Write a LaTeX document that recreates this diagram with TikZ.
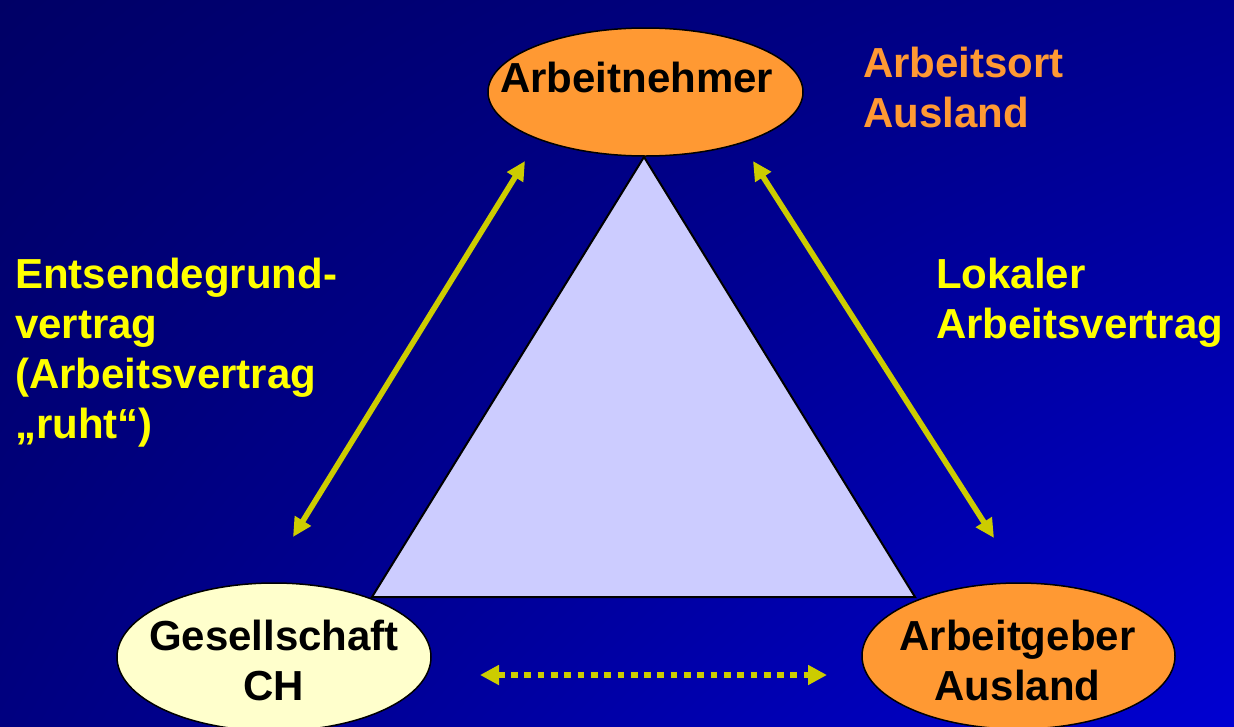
\documentclass[tikz,border=0pt]{standalone}
\usepackage{fontspec}
\setmainfont{Liberation Sans}
\usetikzlibrary{arrows.meta,shapes.geometric,shadings}

\definecolor{bgtl}{HTML}{000066}
\definecolor{bgtr}{HTML}{00008E}
\definecolor{bgbl}{HTML}{000080}
\definecolor{bgbr}{HTML}{0000D2}
\definecolor{partyorange}{HTML}{FF9933}
\definecolor{partycream}{HTML}{FFFFCC}
\definecolor{trianglefill}{HTML}{CCCCFF}
\definecolor{linkyellow}{HTML}{CCCC00}
\definecolor{labelyellow}{HTML}{FFFF00}

\begin{document}
\begin{tikzpicture}[x=1pt,y=-1pt,
  party/.style={ellipse, draw=black, line width=1.5pt, inner sep=0pt},
  bigtext/.style={font=\bfseries\fontsize{42}{50}\selectfont, inner sep=0pt},
  relation/.style={draw=linkyellow, line width=5.6pt,
    {Triangle[length=19pt,width=18pt]}-{Triangle[length=19pt,width=18pt]}},
  dottedrelation/.style={draw=linkyellow, line width=6.7pt,
    dash pattern=on 6.7pt off 6.6pt,
    {Triangle[length=19pt,width=19pt]}-{Triangle[length=19pt,width=19pt]}}]

  % page and background
  \useasboundingbox (0,0) rectangle (1234,726);
  \shade[upper left=bgtl, upper right=bgtr, lower left=bgbl, lower right=bgbr]
    (0,0) rectangle (1234,726);

  % central triangle
  \coordinate (apex) at (644,157);
  \coordinate (baseL) at (372,597);
  \coordinate (baseR) at (915,597);
  \draw[fill=trianglefill, draw=black, line width=2pt, line join=miter]
    (apex) -- (baseR) -- (baseL) -- cycle;

  % the three parties
  \node[party, fill=partyorange, minimum width=315pt, minimum height=128pt]
    (an) at (645.5,92) {};
  \node[party, fill=partycream, minimum width=314pt, minimum height=148pt]
    (gs) at (274,657) {};
  \node[party, fill=partyorange, minimum width=313pt, minimum height=146pt]
    (ag) at (1018.5,656) {};

  % (for multi-line texts the base anchor sits on the last line)
  \node[bigtext, anchor=base west, text=black] (antext) at (500,92) {Arbeitnehmer};
  \node[bigtext, anchor=base, align=center, text=black] (gstext) at (274,700)
    {Gesellschaft\\CH};
  \node[bigtext, anchor=base, align=center, text=black] (agtext) at (1017.5,700)
    {Arbeitgeber\\Ausland};

  % relations between the parties
  \coordinate (l1) at (525,161);
  \coordinate (l2) at (293,537);
  \coordinate (r1) at (753,161);
  \coordinate (r2) at (994,538);
  \coordinate (d1) at (480,675);
  \coordinate (d2) at (827,675);
  \draw[relation] (l1) -- (l2);
  \draw[relation] (r1) -- (r2);
  \draw[dottedrelation] (d1) -- (d2);

  % side labels
  \node[bigtext, anchor=base west, align=left, text=partyorange] (place) at (863,127)
    {Arbeitsort\\Ausland};
  \node[bigtext, anchor=base west, align=left, text=labelyellow] (leftlabel) at (15,438)
    {Entsendegrund-\\vertrag\\(Arbeitsvertrag\\„ruht“)};
  \node[bigtext, anchor=base west, align=left, text=labelyellow] (rightlabel) at (936,338)
    {Lokaler\\Arbeitsvertrag};
\end{tikzpicture}
\end{document}
